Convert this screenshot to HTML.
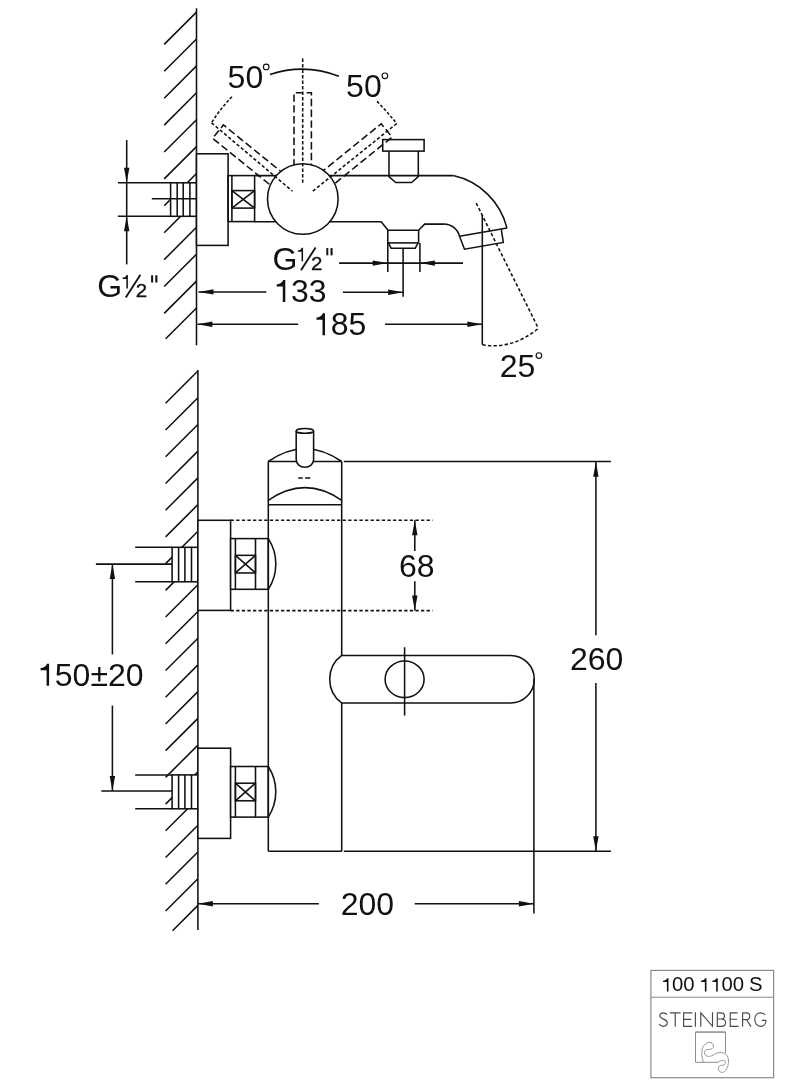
<!DOCTYPE html>
<html><head><meta charset="utf-8"><style>
html,body{margin:0;padding:0;background:#fff;}
svg{display:block;will-change:transform;}
text{font-family:"Liberation Sans",sans-serif;fill:#111;stroke:none;}
</style></head><body>
<svg width="797" height="1080" viewBox="0 0 797 1080">
<g stroke="#111" stroke-width="1.55" fill="none" stroke-linecap="butt">
<line x1="196.50" y1="12.10" x2="164.20" y2="44.40"/>
<line x1="196.50" y1="39.00" x2="164.20" y2="71.30"/>
<line x1="196.50" y1="65.90" x2="164.20" y2="98.20"/>
<line x1="196.50" y1="92.80" x2="164.20" y2="125.10"/>
<line x1="196.50" y1="119.70" x2="164.20" y2="152.00"/>
<line x1="196.50" y1="146.60" x2="164.20" y2="178.90"/>
<line x1="196.50" y1="173.50" x2="164.20" y2="205.80"/>
<line x1="196.50" y1="200.40" x2="164.20" y2="232.70"/>
<line x1="196.50" y1="227.30" x2="164.20" y2="259.60"/>
<line x1="196.50" y1="254.20" x2="164.20" y2="286.50"/>
<line x1="196.50" y1="281.10" x2="164.20" y2="313.40"/>
<line x1="196.50" y1="308.00" x2="165.70" y2="338.80"/>
<line x1="196.50" y1="8.30" x2="196.50" y2="345.20"/>
<line x1="117.90" y1="182.80" x2="170.60" y2="182.80"/>
<line x1="117.90" y1="216.30" x2="170.60" y2="216.30"/>
<rect x="170.60" y="182.80" width="25.90" height="33.50" fill="#fff"/>
<line x1="177.20" y1="182.80" x2="177.20" y2="216.30"/>
<line x1="183.20" y1="182.80" x2="183.20" y2="216.30"/>
<line x1="189.90" y1="182.80" x2="189.90" y2="216.30"/>
<line x1="151.80" y1="198.80" x2="196.50" y2="198.80"/>
<line x1="126.70" y1="140.00" x2="126.70" y2="264.40"/>
<path d="M126.70,182.80 L124.00,167.80 L129.40,167.80 Z" fill="#111" stroke="none"/>
<path d="M126.70,216.30 L129.40,231.30 L124.00,231.30 Z" fill="#111" stroke="none"/>
<rect x="196.50" y="153.80" width="31.60" height="91.60" fill="#fff"/>
<rect x="228.10" y="175.60" width="26.50" height="46.00" fill="none"/>
<line x1="231.90" y1="175.60" x2="231.90" y2="221.60"/>
<rect x="231.90" y="190.60" width="22.70" height="17.50" fill="none"/>
<line x1="231.90" y1="190.60" x2="254.60" y2="208.10"/>
<line x1="231.90" y1="208.10" x2="254.60" y2="190.60"/>
<path d="M293.36,181.58 L223.42,124.94 L212.59,138.31 L282.54,194.94" fill="none" stroke-dasharray="7.4 3.4"/>
<path d="M311.29,180.41 L381.24,123.77 L392.06,137.14 L322.12,193.78" fill="none" stroke-dasharray="7.4 3.4"/>
<path d="M294.0,199.00 L294.0,92.8 L311.4,92.8 L311.4,199.00" fill="none" stroke-dasharray="7.4 3.4"/>
<line x1="254.60" y1="175.60" x2="453.30" y2="175.60"/>
<line x1="254.60" y1="221.70" x2="381.00" y2="221.70"/>
<circle cx="302.8" cy="199.0" r="35.3" fill="#fff"/>
<line x1="302.70" y1="58.60" x2="302.70" y2="182.80" stroke-dasharray="3.3 2.2"/>
<line x1="211.50" y1="122.80" x2="292.50" y2="191.20" stroke-dasharray="3.3 2.2"/>
<line x1="396.80" y1="123.50" x2="311.40" y2="192.30" stroke-dasharray="3.3 2.2"/>
<path d="M232.0,96.8 Q220.5,108.3 211.5,122.8" fill="none" stroke-dasharray="3.0 1.9"/>
<path d="M377.0,101.4 Q387.4,112.2 396.8,123.5" fill="none" stroke-dasharray="3.0 1.9"/>
<path d="M270,74.5 A101.2,101.2 0 0 1 338.9,76.3" fill="none"/>
<text x="227.60" y="88.20" font-size="32">50</text>
<circle cx="266.20" cy="66.90" r="2.8" fill="none" stroke-width="1.15"/>
<text x="346.10" y="96.90" font-size="32">50</text>
<circle cx="384.90" cy="75.80" r="2.8" fill="none" stroke-width="1.15"/>
<rect x="382.70" y="139.60" width="41.40" height="11.50" fill="none"/>
<path d="M389,151.1 L389,176.7 L395.7,182.5 L411.6,182.5 L418.3,176.7 L418.3,151.1" fill="none"/>
<path d="M453.3,175.6 A71.1,71.1 0 0 1 506.9,227.9" fill="none"/>
<path d="M381,221.4 L388,230.2 L418.6,230.2 L424.7,224.1 L443.8,224.1 A16,16 0 0 1 459.5,236.3" fill="none"/>
<path d="M459.5,236.3 L507.1,228.1" fill="none"/>
<path d="M501.3,229.3 L503.3,242.4 L464.5,249.2 L459.5,236.3" fill="none"/>
<path d="M387.8,230.2 L387.8,271.9" fill="none"/>
<path d="M418.6,230.2 L418.6,242.9" fill="none"/>
<path d="M387.8,242.9 L418.6,242.9" fill="none"/>
<path d="M388.4,242.9 L391.1,248.2 L415.2,248.2 L418.2,242.9" fill="none"/>
<line x1="419.90" y1="242.90" x2="419.90" y2="271.90"/>
<line x1="403.10" y1="248.20" x2="403.10" y2="296.80"/>
<line x1="339.10" y1="263.10" x2="463.00" y2="263.10"/>
<path d="M387.70,263.10 L372.70,265.80 L372.70,260.40 Z" fill="#111" stroke="none"/>
<path d="M419.90,263.10 L434.90,260.40 L434.90,265.80 Z" fill="#111" stroke="none"/>
<text x="272.40" y="269.60" font-size="32">G</text>
<path d="M301.53,261.25 L301.53,251.73 L297.85,251.73 L297.85,250.32 C299.63,250.26 301.29,249.40 301.78,247.74 L303.07,247.74 L303.07,261.25 Z" fill="#111" stroke="none"/>
<line x1="301.00" y1="270.30" x2="315.60" y2="247.50" stroke-width="1.85"/>
<g transform="translate(310.97,269.60) scale(1.12,1)"><text x="0" y="0" font-size="18.3" style="stroke:#111;stroke-width:0.35px">2</text></g>
<rect x="326.30" y="248.10" width="2" height="7.2" fill="#111" stroke="none"/>
<rect x="330.50" y="248.10" width="2.1" height="7.2" fill="#111" stroke="none"/>
<line x1="198.50" y1="291.90" x2="266.30" y2="291.90"/>
<path d="M198.50,291.90 L213.50,289.20 L213.50,294.60 Z" fill="#111" stroke="none"/>
<line x1="342.90" y1="292.20" x2="403.10" y2="292.20"/>
<path d="M403.10,292.20 L388.10,294.90 L388.10,289.50 Z" fill="#111" stroke="none"/>
<path d="M282.80,302.10 L282.80,286.60 L276.80,286.60 L276.80,284.30 C279.70,284.20 282.40,282.80 283.20,280.10 L285.30,280.10 L285.30,302.10 Z" fill="#111" stroke="none"/>
<text x="291.00" y="302.10" font-size="32">33</text>
<line x1="197.40" y1="324.20" x2="298.20" y2="324.20"/>
<path d="M197.40,324.20 L212.40,321.50 L212.40,326.90 Z" fill="#111" stroke="none"/>
<line x1="385.00" y1="324.30" x2="482.30" y2="324.30"/>
<path d="M482.30,324.30 L467.30,327.00 L467.30,321.60 Z" fill="#111" stroke="none"/>
<path d="M322.50,335.20 L322.50,319.70 L316.50,319.70 L316.50,317.40 C319.40,317.30 322.10,315.90 322.90,313.20 L325.00,313.20 L325.00,335.20 Z" fill="#111" stroke="none"/>
<text x="330.70" y="335.20" font-size="32">85</text>
<line x1="482.30" y1="214.50" x2="482.30" y2="344.70"/>
<line x1="476.20" y1="203.10" x2="538.40" y2="328.40" stroke-dasharray="3.4 2.2"/>
<path d="M482.3,344.7 Q512,350 538.4,328.4" fill="none" stroke-dasharray="3.4 2.2"/>
<text x="499.70" y="376.50" font-size="32">25</text>
<circle cx="538.90" cy="355.50" r="2.8" fill="none" stroke-width="1.15"/>
<text x="97.20" y="296.80" font-size="32">G</text>
<path d="M126.33,288.45 L126.33,278.93 L122.65,278.93 L122.65,277.52 C124.43,277.46 126.09,276.60 126.58,274.94 L127.87,274.94 L127.87,288.45 Z" fill="#111" stroke="none"/>
<line x1="125.80" y1="297.50" x2="140.40" y2="274.70" stroke-width="1.85"/>
<g transform="translate(135.77,296.80) scale(1.12,1)"><text x="0" y="0" font-size="18.3" style="stroke:#111;stroke-width:0.35px">2</text></g>
<rect x="151.10" y="275.30" width="2" height="7.2" fill="#111" stroke="none"/>
<rect x="155.30" y="275.30" width="2.1" height="7.2" fill="#111" stroke="none"/>
<line x1="197.90" y1="371.00" x2="165.60" y2="403.30"/>
<line x1="197.90" y1="397.72" x2="165.60" y2="430.02"/>
<line x1="197.90" y1="424.44" x2="165.60" y2="456.74"/>
<line x1="197.90" y1="451.16" x2="165.60" y2="483.46"/>
<line x1="197.90" y1="477.88" x2="165.60" y2="510.18"/>
<line x1="197.90" y1="504.60" x2="165.60" y2="536.90"/>
<line x1="197.90" y1="531.32" x2="165.60" y2="563.62"/>
<line x1="197.90" y1="558.04" x2="165.60" y2="590.34"/>
<line x1="197.90" y1="584.76" x2="165.60" y2="617.06"/>
<line x1="197.90" y1="611.48" x2="165.60" y2="643.78"/>
<line x1="197.90" y1="638.20" x2="165.60" y2="670.50"/>
<line x1="197.90" y1="664.92" x2="165.60" y2="697.22"/>
<line x1="197.90" y1="691.64" x2="165.60" y2="723.94"/>
<line x1="197.90" y1="718.36" x2="165.60" y2="750.66"/>
<line x1="197.90" y1="745.08" x2="165.60" y2="777.38"/>
<line x1="197.90" y1="771.80" x2="165.60" y2="804.10"/>
<line x1="197.90" y1="798.52" x2="165.60" y2="830.82"/>
<line x1="197.90" y1="825.24" x2="165.60" y2="857.54"/>
<line x1="197.90" y1="851.96" x2="165.60" y2="884.26"/>
<line x1="197.90" y1="878.68" x2="165.60" y2="910.98"/>
<line x1="197.90" y1="905.40" x2="172.60" y2="930.70"/>
<line x1="197.90" y1="370.00" x2="197.90" y2="930.00"/>
<line x1="135.20" y1="547.30" x2="172.10" y2="547.30"/>
<line x1="135.20" y1="581.80" x2="172.10" y2="581.80"/>
<rect x="172.10" y="547.30" width="25.80" height="34.50" fill="#fff"/>
<line x1="178.60" y1="547.30" x2="178.60" y2="581.80"/>
<line x1="184.90" y1="547.30" x2="184.90" y2="581.80"/>
<line x1="191.50" y1="547.30" x2="191.50" y2="581.80"/>
<rect x="197.90" y="520.30" width="32.70" height="90.10" fill="#fff"/>
<rect x="230.60" y="538.60" width="37.70" height="50.70" fill="#fff"/>
<line x1="235.40" y1="538.60" x2="235.40" y2="589.30"/>
<line x1="255.50" y1="538.60" x2="255.50" y2="589.30"/>
<rect x="235.40" y="555.35" width="20.10" height="17.60" fill="none"/>
<line x1="235.40" y1="555.35" x2="255.50" y2="572.95"/>
<line x1="235.40" y1="572.95" x2="255.50" y2="555.35"/>
<path d="M268.3,538.60 A46.5,46.5 0 0 1 268.3,589.30" fill="none"/>
<line x1="135.20" y1="774.90" x2="172.10" y2="774.90"/>
<line x1="135.20" y1="808.80" x2="172.10" y2="808.80"/>
<rect x="172.10" y="774.90" width="25.80" height="33.90" fill="#fff"/>
<line x1="178.60" y1="774.90" x2="178.60" y2="808.80"/>
<line x1="184.90" y1="774.90" x2="184.90" y2="808.80"/>
<line x1="191.50" y1="774.90" x2="191.50" y2="808.80"/>
<rect x="197.90" y="748.20" width="32.70" height="90.20" fill="#fff"/>
<rect x="230.60" y="766.50" width="37.70" height="50.60" fill="#fff"/>
<line x1="235.40" y1="766.50" x2="235.40" y2="817.10"/>
<line x1="255.50" y1="766.50" x2="255.50" y2="817.10"/>
<rect x="235.40" y="783.20" width="20.10" height="17.60" fill="none"/>
<line x1="235.40" y1="783.20" x2="255.50" y2="800.80"/>
<line x1="235.40" y1="800.80" x2="255.50" y2="783.20"/>
<path d="M268.3,766.50 A46.5,46.5 0 0 1 268.3,817.10" fill="none"/>
<line x1="95.90" y1="564.10" x2="172.10" y2="564.10"/>
<line x1="101.30" y1="790.90" x2="172.10" y2="790.90"/>
<line x1="112.40" y1="564.10" x2="112.40" y2="654.40"/>
<path d="M112.40,564.10 L115.10,579.10 L109.70,579.10 Z" fill="#111" stroke="none"/>
<line x1="112.40" y1="705.60" x2="112.40" y2="790.90"/>
<path d="M112.40,790.90 L109.70,775.90 L115.10,775.90 Z" fill="#111" stroke="none"/>
<path d="M46.60,685.70 L46.60,670.20 L40.60,670.20 L40.60,667.90 C43.50,667.80 46.20,666.40 47.00,663.70 L49.10,663.70 L49.10,685.70 Z" fill="#111" stroke="none"/>
<text x="54.80" y="685.70" font-size="32">50±20</text>
<line x1="268.30" y1="461.50" x2="268.30" y2="851.30"/>
<line x1="341.70" y1="461.50" x2="341.70" y2="655.40"/>
<line x1="341.70" y1="703.00" x2="341.70" y2="851.30"/>
<line x1="268.30" y1="461.50" x2="341.70" y2="461.50"/>
<line x1="343.80" y1="461.50" x2="610.90" y2="461.50"/>
<line x1="268.30" y1="851.30" x2="341.70" y2="851.30"/>
<line x1="343.80" y1="851.30" x2="610.90" y2="851.30"/>
<path d="M268.3,461.5 Q305,436 341.7,461.5" fill="none"/>
<path d="M268.3,500.3 Q305,475 341.7,500.3" fill="none"/>
<line x1="268.30" y1="504.70" x2="341.70" y2="504.70"/>
<line x1="298.30" y1="478.00" x2="302.70" y2="478.00"/>
<line x1="305.20" y1="478.00" x2="310.20" y2="478.00"/>
<path d="M296.2,430.9 L296.2,459.6 A8.7,7.7 0 0 0 313.6,459.6 L313.6,430.9" fill="#fff"/>
<ellipse cx="304.9" cy="430.9" rx="8.7" ry="2.4" fill="#fff"/>
<line x1="230.60" y1="520.30" x2="432.60" y2="520.30" stroke-dasharray="3.3 2.3"/>
<line x1="230.60" y1="610.60" x2="432.60" y2="610.60" stroke-dasharray="3.3 2.3"/>
<line x1="414.80" y1="520.30" x2="414.80" y2="550.90"/>
<path d="M414.80,520.30 L417.50,535.30 L412.10,535.30 Z" fill="#111" stroke="none"/>
<line x1="414.80" y1="581.30" x2="414.80" y2="610.60"/>
<path d="M414.80,610.60 L412.10,595.60 L417.50,595.60 Z" fill="#111" stroke="none"/>
<text x="399.00" y="577.00" font-size="32">68</text>
<path d="M341.7,655.4 L510.5,655.4 A23.8,23.8 0 0 1 510.5,703.0 L341.7,703.0 A29.6,29.6 0 0 1 341.7,655.4 Z" fill="#fff"/>
<ellipse cx="404.6" cy="679.3" rx="19.5" ry="18.3" fill="none"/>
<line x1="404.60" y1="647.30" x2="404.60" y2="715.60"/>
<line x1="595.90" y1="461.70" x2="595.90" y2="635.30"/>
<path d="M595.90,461.70 L598.60,476.70 L593.20,476.70 Z" fill="#111" stroke="none"/>
<line x1="595.90" y1="683.00" x2="595.90" y2="851.20"/>
<path d="M595.90,851.20 L593.20,836.20 L598.60,836.20 Z" fill="#111" stroke="none"/>
<text x="570.00" y="669.70" font-size="32">260</text>
<line x1="533.90" y1="679.00" x2="533.90" y2="913.50"/>
<line x1="197.90" y1="903.80" x2="318.90" y2="903.80"/>
<path d="M197.90,903.80 L212.90,901.10 L212.90,906.50 Z" fill="#111" stroke="none"/>
<line x1="414.70" y1="903.80" x2="533.90" y2="903.80"/>
<path d="M533.90,903.80 L518.90,906.50 L518.90,901.10 Z" fill="#111" stroke="none"/>
<text x="340.70" y="915.10" font-size="32">200</text>
</g>
<g>
<rect x="650.9" y="970.4" width="122.7" height="107.3" fill="none" stroke="#8a8a8a" stroke-width="1.2"/>
<line x1="650.9" y1="997.3" x2="773.6" y2="997.3" stroke="#8a8a8a" stroke-width="1.1"/>
<g transform="translate(660.80,0) scale(1.0518,1)">
<path d="M5.79,991.40 L5.79,982.05 L2.17,982.05 L2.17,980.66 C3.92,980.60 5.55,979.76 6.03,978.13 L7.30,978.13 L7.30,991.40 Z" fill="#111" stroke="none"/>
<text x="10.73" y="991.40" font-size="19.3">00</text>
</g>
<g transform="translate(698.80,0) scale(1.0518,1)">
<path d="M5.79,991.40 L5.79,982.05 L2.17,982.05 L2.17,980.66 C3.92,980.60 5.55,979.76 6.03,978.13 L7.30,978.13 L7.30,991.40 Z" fill="#111" stroke="none"/>
<path d="M16.52,991.40 L16.52,982.05 L12.91,982.05 L12.91,980.66 C14.65,980.60 16.28,979.76 16.77,978.13 L18.03,978.13 L18.03,991.40 Z" fill="#111" stroke="none"/>
<text x="21.47" y="991.40" font-size="19.3">00</text>
</g>
<g transform="translate(749.00,0) scale(1.0518,1)">
<text x="0.00" y="991.40" font-size="19.3">S</text>
</g>
<g fill="none" stroke="#4a4a4a" stroke-width="1.15" stroke-linejoin="miter">
<path d="M667.0,1014.6 C666.2,1013.4 664.8,1012.8 663.3,1012.8 C661.2,1012.8 659.9,1014.1 659.9,1015.8 C659.9,1019.6 667.3,1018.6 667.3,1022.6 C667.3,1024.9 665.6,1026.3 663.4,1026.3 C661.6,1026.3 660.1,1025.4 659.3,1024.0"/>
<path d="M669.9,1012.8 H680.6 M675.25,1012.8 V1026.8"/>
<path d="M692.3,1012.8 H683.6 V1026.3 H692.3 M683.6,1019.3 H691.2"/>
<path d="M695.4,1012.2 V1026.8"/>
<path d="M700.8,1026.8 V1012.8 L712.5,1026.3 V1012.2"/>
<path d="M717.3,1012.8 H720.9 C723.2,1012.8 724.5,1014.2 724.5,1015.9 C724.5,1017.7 723.2,1019.0 720.9,1019.0 H717.3 M720.9,1019.0 C723.8,1019.0 725.6,1020.4 725.6,1022.7 C725.6,1024.9 723.9,1026.3 721.3,1026.3 H717.3 V1012.8"/>
<path d="M737.6,1012.8 H730.2 V1026.3 H738.5 M730.2,1019.2 H737.1"/>
<path d="M742.6,1026.8 V1012.8 H746.3 C748.5,1012.8 749.8,1014.3 749.8,1016.2 C749.8,1018.2 748.4,1019.6 746.3,1019.6 H742.6 M746.6,1019.6 L750.9,1026.6"/>
<path d="M765.2,1015.0 C764.0,1013.6 762.4,1012.8 760.4,1012.8 C757.1,1012.8 754.8,1015.7 754.8,1019.6 C754.8,1023.4 757.2,1026.3 760.5,1026.3 C763.6,1026.3 765.9,1024.2 765.9,1021.0 V1020.3 H761.8"/>
</g>
<path d="M725.5,1053.2 V1032.1 H695.5 V1062.3 H718" fill="none" stroke="#8c8c8c" stroke-width="1.0"/>
<line x1="695.5" y1="1032.1" x2="725.5" y2="1032.1" stroke="#999" stroke-width="1.4"/>
<path d="M703.6,1062.3 C701.2,1057 701.2,1049 703.6,1046 C705.5,1043.3 707.5,1042.4 709.2,1042.4 C711.6,1042.4 713.5,1043.8 713.5,1046 C713.5,1048.3 711.3,1049.5 708.6,1049.5 C706,1049.5 704.3,1050.5 704.3,1052.6 C704.3,1055 706.3,1056.4 709.4,1056.4 C712.8,1056.4 715.8,1052.4 720,1052.4 C724.8,1052.4 728.5,1055.5 728.5,1061 C728.5,1067.5 725.5,1072.4 722.4,1072.4 C719.8,1072.4 718.2,1070.5 718.2,1068.3 C718.2,1066.2 720,1065.3 722.5,1065.2 C724.6,1065.1 725.6,1063.8 725.6,1062.3 C725.6,1061 724.6,1060.4 722.8,1060.4 C720.6,1060.4 719,1061.6 717.5,1062.4" fill="none" stroke="#8c8c8c" stroke-width="0.9"/>
</g>
</svg>
</body></html>
